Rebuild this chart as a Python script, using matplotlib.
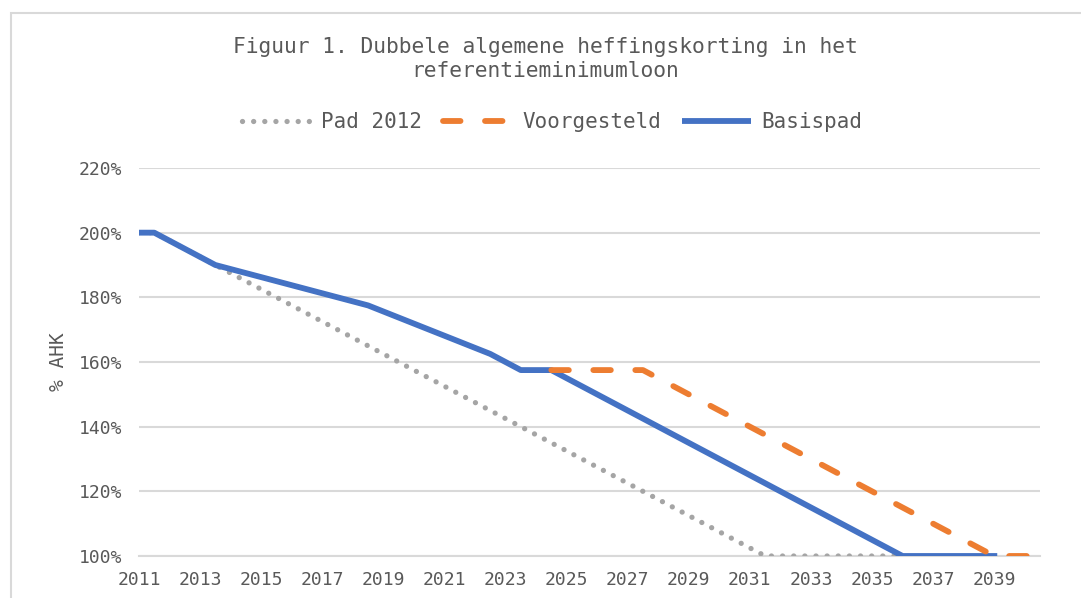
import matplotlib
matplotlib.use('Agg')
import matplotlib.pyplot as plt
from matplotlib.patches import Rectangle
from matplotlib.ticker import FuncFormatter, MultipleLocator, FixedLocator

# series (x in years, y in % AHK)
pad2012_x = [2011, 2011.5, 2013.5, 2031.5, 2036]
pad2012_y = [200, 200, 190, 100, 100]
voorgesteld_x = [2024.5, 2027.5, 2039, 2040.5]
voorgesteld_y = [157.5, 157.5, 100, 100]
basispad_x = [2011, 2011.5, 2013.5, 2018.5, 2022.5, 2023.5, 2024.5, 2036, 2039.1]
basispad_y = [200, 200, 190, 177.5, 162.5, 157.5, 157.5, 100, 100]
year_ticks = list(range(2011, 2041, 2))

title = "Figuur 1. Dubbele algemene heffingskorting in het\nreferentieminimumloon"
ylabel = "% AHK"

TXT = '#595959'
GRID = '#d9d9d9'

plt.rcParams['font.family'] = ['DejaVu Sans Mono']

fig = plt.figure(figsize=(10.81, 5.98), dpi=100)
ax = fig.add_axes([139 / 1081, 42 / 598, 901 / 1081, 388 / 598])

# outer chart border (cropped at right/bottom)
fig.patches.append(Rectangle((11 / 1081, -0.1), 1.2, 1 - 13 / 598 + 0.1,
                             transform=fig.transFigure, fill=False,
                             edgecolor=GRID, linewidth=1.5))

l1, = ax.plot(pad2012_x, pad2012_y, color='#A5A5A5', linewidth=3.8,
              linestyle=(0, (0.01, 2.1)), dash_capstyle='round',
              label='Pad 2012', zorder=3)
l3, = ax.plot(basispad_x, basispad_y, color='#4472C4', linewidth=4.2,
              solid_capstyle='butt', label='Basispad', zorder=4)
l2, = ax.plot(voorgesteld_x, voorgesteld_y, color='#ED7D31', linewidth=4.2,
              linestyle=(0, (3.0, 4.2)), dash_capstyle='round',
              label='Voorgesteld', zorder=5)

ax.set_xlim(2011, 2040.5)
ax.set_ylim(100, 220)
ax.xaxis.set_major_locator(FixedLocator(year_ticks))
ax.yaxis.set_major_locator(MultipleLocator(20))
ax.xaxis.set_major_formatter(FuncFormatter(lambda v, p: f"{int(round(v))}"))
ax.yaxis.set_major_formatter(FuncFormatter(lambda v, p: f"{v:.0f}%"))
ax.tick_params(length=0, labelsize=13, labelcolor=TXT)
ax.tick_params(axis='y', pad=12)
ax.tick_params(axis='x', pad=11)
ax.grid(axis='y', color=GRID, linewidth=1.5)
ax.set_axisbelow(True)
for s in ['top', 'right', 'left']:
    ax.spines[s].set_visible(False)
ax.spines['bottom'].set_color(GRID)
ax.spines['bottom'].set_linewidth(1.5)
ax.spines['bottom'].set_zorder(1)

ax.set_ylabel(ylabel, fontsize=14, color=TXT, labelpad=8)

fig.text(545 / 1081, 1 - 59 / 598, title, ha='center', va='center',
         fontsize=15.3, color=TXT, linespacing=1.25)

fig.legend(handles=[l1, l2, l3], loc='center', ncol=3,
           bbox_to_anchor=(552 / 1081, 1 - 122 / 598), frameon=False,
           fontsize=15, labelcolor=TXT, handlelength=3.3, handletextpad=0.5,
           columnspacing=1.0)

fig.savefig('out.png', dpi=100)
